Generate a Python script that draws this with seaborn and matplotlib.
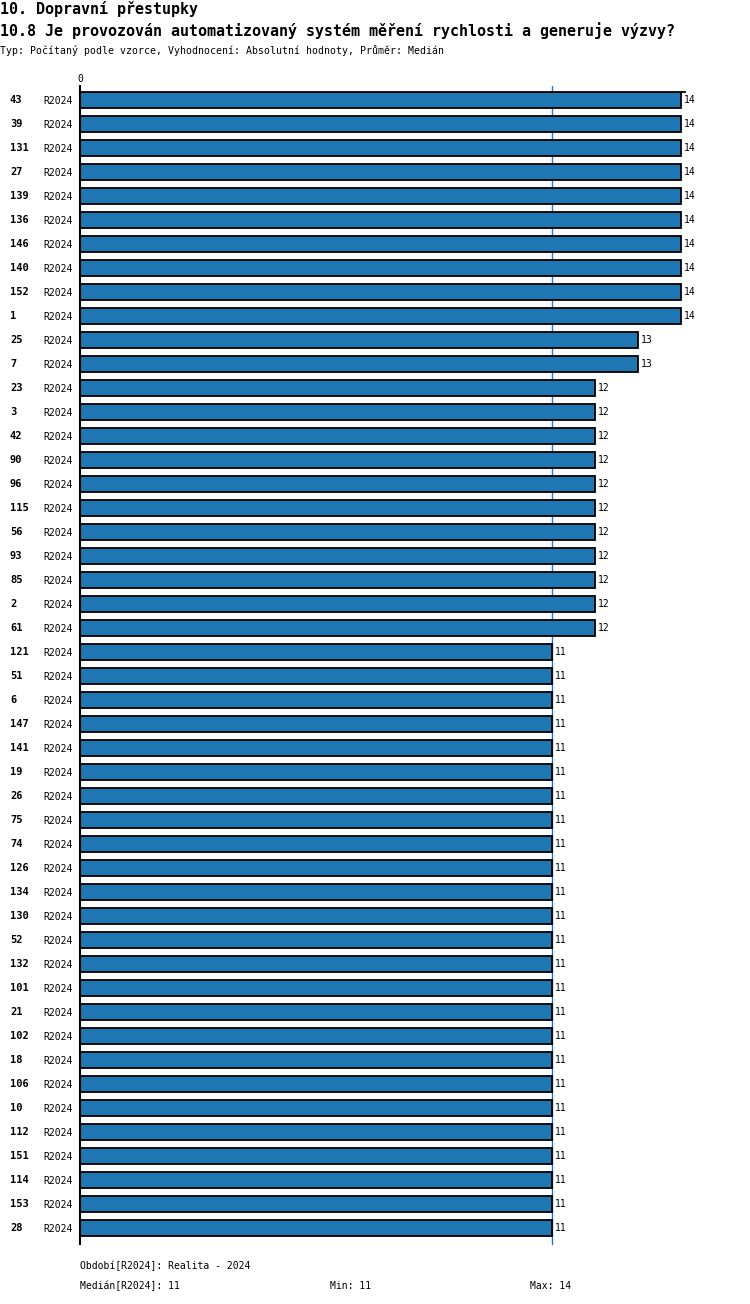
import pandas as pd
import matplotlib
matplotlib.use("Agg")
import matplotlib.pyplot as plt
import matplotlib.transforms as mtransforms
import seaborn as sns

ids = ['43', '39', '131', '27', '139', '136', '146', '140', '152', '1',
       '25', '7', '23', '3', '42', '90', '96', '115', '56', '93', '85', '2',
       '61', '121', '51', '6', '147', '141', '19', '26', '75', '74', '126',
       '134', '130', '52', '132', '101', '21', '102', '18', '106', '10',
       '112', '151', '114', '153', '28']
values = [14] * 10 + [13] * 2 + [12] * 11 + [11] * 25
period = 'R2024'
median = 11
title1 = '10. Dopravní přestupky'
title2 = '10.8 Je provozován automatizovaný systém měření rychlosti a generuje výzvy?'
subtitle = 'Typ: Počítaný podle vzorce, Vyhodnocení: Absolutní hodnoty, Průměr: Medián'

df = pd.DataFrame({'id': ids, 'value': values})

sns.set_style('white')
plt.rcParams['font.family'] = ['DejaVu Sans Mono', 'DejaVu Sans']
plt.rcParams['text.color'] = 'black'
plt.rcParams['xtick.color'] = 'black'
plt.rcParams['ytick.color'] = 'black'

W, H = 750, 1304
fig = plt.figure(figsize=(W / 100, H / 100), dpi=100)
ax_left, ax_right, ax_top, ax_bot = 80, 685, 92, 1244
ax = fig.add_axes([ax_left / W, 1 - ax_bot / H, (ax_right - ax_left) / W, (ax_bot - ax_top) / H])

ax.axvline(median, color='#1f77b4', lw=1, ymin=0, ymax=1.005, clip_on=False, zorder=0)
sns.barplot(data=df, x='value', y='id', order=ids, orient='h', color='#1f77b4',
            edgecolor='black', linewidth=1.3, width=0.667, saturation=1, ax=ax, zorder=2)

n = len(ids)
ax.set_xlim(0, 14.1)
ax.set_ylim(n - 1 + 0.667, -0.333)

for s in ['right', 'bottom']:
    ax.spines[s].set_visible(False)
ax.spines['left'].set_linewidth(1.5)
ax.spines['left'].set_color('black')
ax.spines['top'].set_linewidth(1.3)
ax.spines['top'].set_color('black')

ax.xaxis.tick_top()
ax.set_xticks([0])
ax.set_xticklabels(['0'], fontsize=7)
ax.tick_params(axis='x', direction='out', length=5, width=1.5, pad=1)
ax.set_xlabel('')
ax.set_ylabel('')
ax.set_yticks(range(n))
ax.set_yticklabels([period] * n, fontsize=7)
ax.tick_params(axis='y', length=0, pad=5)

trans = mtransforms.blended_transform_factory(fig.transFigure, ax.transData)
for i, (k, v) in enumerate(zip(ids, values)):
    ax.text(10 / W, i, k, transform=trans, ha='left', va='center', fontsize=7.5, fontweight='bold')
    ax.text(v + 0.07, i, f'{v}', ha='left', va='center', fontsize=7)

fig.text(0, 1 - 9 / H, title1, ha='left', va='center', fontsize=10.8, fontweight='bold')
fig.text(0, 1 - 31 / H, title2, ha='left', va='center', fontsize=10.8, fontweight='bold')
fig.text(0, 1 - 51 / H, subtitle, ha='left', va='center', fontsize=7.1)

fig.text(80 / W, 1 - 1266 / H, f'Období[{period}]: Realita - 2024', ha='left', va='center', fontsize=7)
fig.text(80 / W, 1 - 1286 / H, f'Medián[{period}]: {median}', ha='left', va='center', fontsize=7)
fig.text(330 / W, 1 - 1286 / H, f'Min: {min(values)}', ha='left', va='center', fontsize=7)
fig.text(530 / W, 1 - 1286 / H, f'Max: {max(values)}', ha='left', va='center', fontsize=7)

fig.savefig('out.png', dpi=100)
